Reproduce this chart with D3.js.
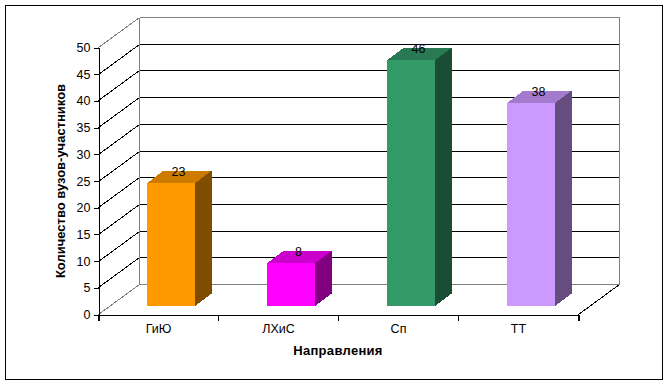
<!DOCTYPE html>
<html><head><meta charset="utf-8">
<script src="https://cdnjs.cloudflare.com/ajax/libs/d3/7.8.5/d3.min.js"></script>
<style>html,body{margin:0;padding:0;background:#fff}svg{display:block}text{font-family:"Liberation Sans",Arial,sans-serif;fill:#000}</style>
</head><body><div id="c"></div>
<script>
const categories = ["ГиЮ","ЛХиС","Сп","ТТ"];
const values = [23,8,46,38];
const yTicks = [0,5,10,15,20,25,30,35,40,45,50];
const frontColors = ["#FF9900","#FF00FF","#339966","#CC99FF"];
const topColors = ["#CC7A00","#CC00CC","#297A52","#A37ACC"];
const sideColors = ["#7F4C00","#800080","#1A4D33","#664D80"];
const yTitle = "Количество вузов-участников";
const xTitle = "Направления";

const W=669,H=385;
const svg=d3.select("#c").append("svg").attr("width",W).attr("height",H);
svg.append("rect").attr("x",5.5).attr("y",5.5).attr("width",657).attr("height",374)
  .attr("fill","#fff").attr("stroke","#000").attr("stroke-width",1);

const x=d3.scaleBand().domain(categories).range([98.5,578.5]);
const y=d3.scaleLinear().domain([0,50]).range([314,47]);
const DX=41,DY=30;        // full floor depth
const ox=12.5,oy=8;       // bar offset from the axis corner
const bw=48,bdx=16.5,bdy=12.5;

const g=svg.append("g").attr("shape-rendering","crispEdges");
const line=(p,x1,y1,x2,y2,c)=>p.append("line").attr("x1",x1).attr("y1",y1).attr("x2",x2).attr("y2",y2).attr("stroke",c).attr("stroke-width",1);

// back wall
const yb=v=>Math.round(y(v)-DY)+.5;
const x0=x.range()[0], x1=x.range()[1];
const grid=yTicks.filter(t=>t>0&&t<50);
grid.forEach(t=>line(g,x0+DX,yb(t),x1+DX,yb(t),"#000"));
line(g,x0+DX,yb(50),x1+DX,yb(50),"#808080");
line(g,x0+DX,yb(0),x1+DX,yb(0),"#808080");
line(g,x0+DX,yb(50),x0+DX,yb(0),"#808080");
line(g,x1+DX,yb(50),x1+DX,yb(0),"#808080");

// side wall and floor (antialiasing off, as in the original stair-step lines)
yTicks.forEach(t=>line(g,x0,Math.round(y(t))+.5,x0+DX,yb(t),(t===0||t===50)?"#808080":"#000"));
line(g,x1,Math.round(y(0))+.5,x1+DX,yb(0),"#000");

// bars
const bars=g.selectAll("g.bar").data(categories).join("g").attr("class","bar");
const fx=d=>x(d)+x.bandwidth()/2-bw/2+ox-.0;
const fy=i=>y(values[i])-oy;
const fb=y(0)-oy;
bars.append("polygon").attr("fill",(d,i)=>sideColors[i])
  .attr("points",(d,i)=>{const a=fx(d)+bw,t=fy(i);return [[a,t],[a+bdx,t-bdy],[a+bdx,fb-bdy],[a,fb]].join(" ")});
bars.append("polygon").attr("fill",(d,i)=>topColors[i])
  .attr("points",(d,i)=>{const a=fx(d),t=fy(i);return [[a,t],[a+bdx,t-bdy],[a+bw+bdx,t-bdy],[a+bw,t]].join(" ")});
bars.append("rect").attr("fill",(d,i)=>frontColors[i])
  .attr("x",d=>fx(d)).attr("y",(d,i)=>fy(i)).attr("width",bw).attr("height",(d,i)=>fb-fy(i));

// value labels
svg.selectAll("text.v").data(categories).join("text").attr("class","v")
  .attr("x",d=>fx(d)+bw/2+7.5).attr("y",(d,i)=>fy(i)-7)
  .attr("text-anchor","middle").attr("font-size",12.5).text((d,i)=>values[i]);

// axes
const ay=d3.axisLeft(y).tickValues(yTicks).tickSize(5).tickSizeOuter(0).tickPadding(3);
const gy=svg.append("g").attr("transform","translate(98.5,0.5)").call(ay);
const ax=d3.axisBottom(x).tickSize(6).tickSizeOuter(6).tickPadding(4);
const gx=svg.append("g").attr("transform","translate(0,314.5)").call(ax);
gx.selectAll(".tick line").remove();
x.domain().concat("_end").forEach((d,i)=>{
  const px=d==="_end"?x1:x(d);
  gx.append("line").attr("x1",px).attr("x2",px).attr("y1",0).attr("y2",6).attr("stroke","#000").attr("shape-rendering","crispEdges");
});
[gx,gy].forEach(a=>{a.selectAll("text").attr("font-family",'"Liberation Sans",Arial,sans-serif').attr("font-size",12.5).attr("fill","#000");
 a.selectAll("path,line").attr("stroke","#000").attr("shape-rendering","crispEdges");a.select(".domain").attr("stroke-width",1)});

svg.append("text").attr("x",338).attr("y",355).attr("text-anchor","middle")
  .attr("font-size",13).attr("letter-spacing",.3).attr("font-weight","bold").text(xTitle);
svg.append("text").attr("transform","translate(65,181) rotate(-90)").attr("text-anchor","middle")
  .attr("font-size",13).attr("font-weight","bold").text(yTitle);
</script></body></html>
